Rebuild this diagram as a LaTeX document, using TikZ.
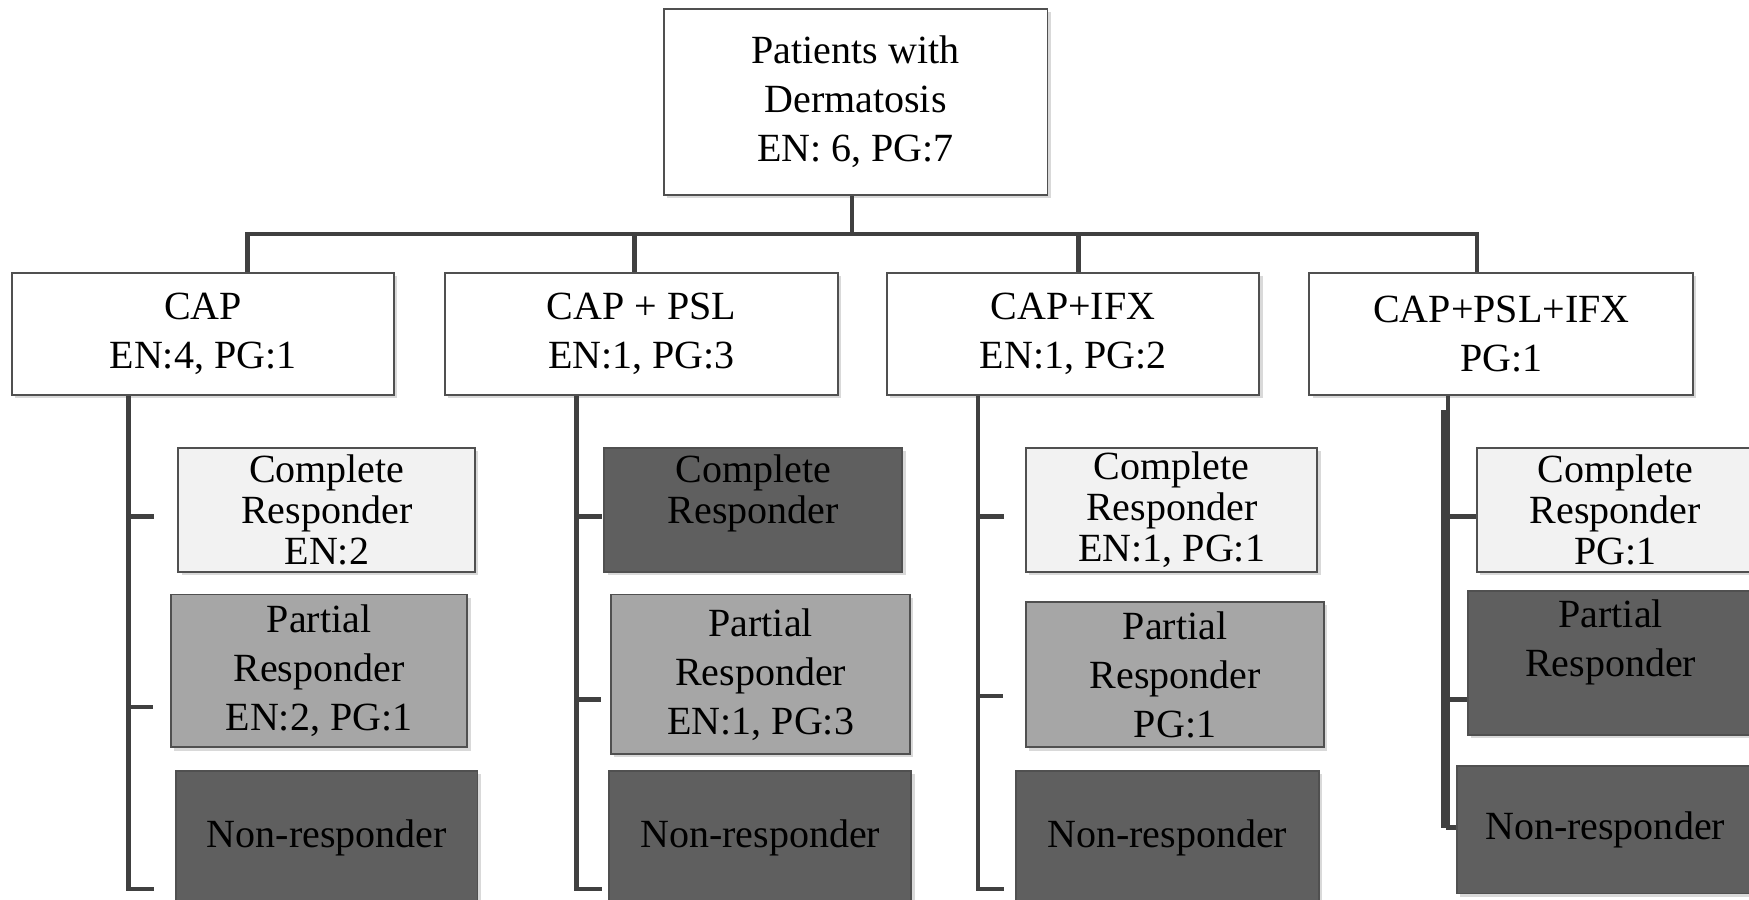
\documentclass[tikz,border=0pt]{standalone}
\usepackage{fontspec}
\setmainfont{Liberation Serif}
\usetikzlibrary{shadows}
\definecolor{linegray}{HTML}{404040}
\definecolor{boxgray}{HTML}{505050}
\definecolor{lightfill}{HTML}{F2F2F2}
\definecolor{midfill}{HTML}{A6A6A6}
\definecolor{darkfill}{HTML}{5F5F5F}

\begin{document}
\begin{tikzpicture}[x=0.01cm,y=-0.01cm,
   box/.style={draw=boxgray,line width=0.5pt,fill=white,inner sep=0pt,align=center,
      font=\fontsize{10.2}{12.4}\selectfont,
      drop shadow={shadow xshift=0.8pt,shadow yshift=-0.8pt,opacity=0.3}},
   armbox/.style={box,minimum height=1.09cm},
   crbox/.style={box,fill=lightfill,minimum height=1.11cm,font=\fontsize{10.2}{10.4}\selectfont},
   prbox/.style={box,fill=midfill,font=\fontsize{10.2}{12.5}\selectfont},
   nrbox/.style={box,fill=darkfill},
   conn/.style={draw=linegray,line width=1.15pt}]
   \useasboundingbox (0,0) rectangle (1568,806);
   % top of the tree
   \node[box,minimum width=3.44cm,minimum height=1.67cm,font=\fontsize{10.2}{12.5}\selectfont]
      (root) at (767,91.5) {Patients with\\Dermatosis\\EN: 6, PG:7};
   \node[armbox,minimum width=3.42cm] (cap) at (182,299.5) {CAP\\EN:4, PG:1};
   \node[armbox,minimum width=3.52cm] (psl) at (575,299.5) {CAP + PSL\\EN:1, PG:3};
   \node[armbox,minimum width=3.34cm] (ifx) at (962,299.5) {CAP+IFX\\EN:1, PG:2};
   \node[armbox,minimum width=3.44cm] (all) at (1346,299.5) {CAP+PSL+IFX\\PG:1};
   \coordinate (j0) at (764,210);
   \coordinate (j1) at (222,210);
   \coordinate (j2) at (569,210);
   \coordinate (j3) at (967,210);
   \coordinate (j4) at (1324,210);
   \draw[conn] (root.south -| j0) -- (j0);
   \draw[conn] (cap.north -| j1) |- (j4) -- (all.north -| j4);
   \draw[conn] (j2) -- (j2 |- psl.north);
   \draw[conn] (j3) -- (j3 |- ifx.north);
   % responses per arm
   \node[crbox,minimum width=2.66cm] (capc) at (293,457) {Complete\\Responder\\EN:2};
   \node[prbox,minimum width=2.66cm,minimum height=1.37cm] (capp) at (286,601.5) {Partial\\Responder\\EN:2, PG:1};
   \node[nrbox,minimum width=2.70cm,minimum height=1.21cm] (capn) at (293,751.5) {Non-responder};
   \node[crbox,fill=darkfill,minimum width=2.67cm] (pslc) at (675.5,457) {Complete\\Responder\\\phantom{EN:2}};
   \node[prbox,minimum width=2.68cm,minimum height=1.43cm] (pslp) at (682,604.5) {Partial\\Responder\\EN:1, PG:3};
   \node[nrbox,minimum width=2.71cm,minimum height=1.21cm] (psln) at (681.5,751.5) {Non-responder};
   \node[crbox,minimum width=2.61cm] (ifxc) at (1050.5,457) {Complete\\Responder\\EN:1, PG:1};
   \node[prbox,minimum width=2.67cm,minimum height=1.30cm] (ifxp) at (1053.5,605) {Partial\\Responder\\PG:1};
   \node[nrbox,minimum width=2.71cm,minimum height=1.21cm] (ifxn) at (1046.5,751.5) {Non-responder};
   \node[crbox,minimum width=2.48cm] (allc) at (1448,457) {Complete\\Responder\\PG:1};
   \node[prbox,fill=darkfill,minimum width=2.56cm,minimum height=1.29cm] (allp) at (1444,594.5) {Partial\\Responder\\\phantom{PG:1}};
   \node[nrbox,minimum width=2.66cm,minimum height=1.14cm] (alln) at (1439,744) {Non-responder};
   % spines with ticks
   \foreach \n/\x/\a/\b in {cap/115/463/634, psl/517/463/627, ifx/877/463/624} {
      \coordinate (\n-x) at (\x,0);
      \coordinate (\n-t1) at (\x+23,\a);
      \coordinate (\n-t2) at (\x+22,\b);
      \coordinate (\n-t3) at (\x+23,797);
      \draw[conn] (\n.south -| \n-x) |- (\n-t3);
      \draw[conn] (\n-x |- \n-t1) -- (\n-t1);
      \draw[conn] (\n-x |- \n-t2) -- (\n-t2);
   }
   \coordinate (all-x) at (1298,0);
   \coordinate (all-y) at (1294,368);
   \coordinate (all-t1) at (allc.west |- 0,463);
   \coordinate (all-t2) at (allp.west |- 0,627);
   \coordinate (all-t3) at (alln.west |- 0,742);
   \draw[conn] (all.south -| all-x) |- (all-t3);
   \draw[conn] (all-y) -- (all-y |- all-t3);
   \draw[conn] (all-x |- all-t1) -- (all-t1);
   \draw[conn] (all-x |- all-t2) -- (all-t2);
\end{tikzpicture}
\end{document}
